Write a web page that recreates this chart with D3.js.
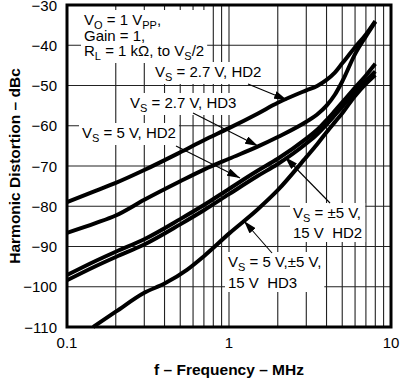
<!DOCTYPE html>
<html>
<head>
<meta charset="utf-8">
<script src="https://cdn.jsdelivr.net/npm/d3@7"></script>
<style>
  body { margin: 0; background: #fff; }
  svg { display: block; font-family: 'Liberation Sans', Arial, Helvetica, sans-serif; }
</style>
</head>
<body>
<div id="chart"></div>
<script>
const freqTicks = [0.1, 1, 10]
const freqTickLabels = ['0.1', '1', '10']
const dbTicks = [-30, -40, -50, -60, -70, -80, -90, -100, -110]

const freq = [0.1, 0.15, 0.2, 0.3, 0.5, 0.7, 1, 1.5, 2, 3, 3.5, 4, 4.5, 5, 6, 7, 8]
const vs27Hd2 = [-79, -76.2, -74.2, -71, -66.6, -63.6, -60.6, -57, -54.3, -51.2, -50.1, -48.6, -46.8, -44.5, -40.5, -37.3, -34]
const vs27Hd3 = [-86.6, -84.2, -82.3, -78.4, -73.8, -70.9, -68.2, -65.2, -62.8, -59, -57.2, -55, -52.3, -49, -42.2, -37.8, -34.2]
const vs5Hd2 = [-97.1, -93.6, -91.3, -88.2, -83.2, -79.7, -75.7, -71.2, -68.2, -63.2, -61, -58.6, -56.3, -54.2, -50.5, -47.5, -44.6]
const vs15Hd2 = [-98.4, -94.9, -92.6, -89.5, -84.5, -81, -77, -72.5, -69.5, -64.4, -62.1, -59.7, -57.4, -55.3, -51.6, -48.8, -46.5]
const hd3Freq = [0.145, 0.2, 0.3, 0.4, 0.55, 0.7, 1, 1.5, 2, 3, 3.5, 4, 4.5, 5, 6, 7, 8]
const vsAllHd3 = [-110, -106.2, -101.5, -99.2, -95.8, -92.4, -86.8, -80.8, -76, -67.8, -64.6, -61.6, -59.1, -56.9, -52.6, -49.6, -47.4]

const series = [
  {f: freq, db: vs27Hd2},
  {f: freq, db: vs27Hd3},
  {f: freq, db: vs5Hd2},
  {f: freq, db: vs15Hd2},
  {f: hd3Freq, db: vsAllHd3}
]

const width = 400
const height = 384
const plot = {left: 67, right: 391, top: 5, bottom: 327}

const x = d3.scaleLog().domain([0.1, 10]).range([plot.left, plot.right])
const y = d3.scaleLinear().domain([-110, -30]).range([plot.bottom, plot.top])

const svg = d3.select('#chart')
  .append('svg')
  .attr('width', width)
  .attr('height', height)

svg.append('defs')
  .append('marker')
  .attr('id', 'head')
  .attr('viewBox', '0 0 13 8')
  .attr('refX', 13)
  .attr('refY', 4)
  .attr('markerWidth', 13)
  .attr('markerHeight', 8)
  .attr('markerUnits', 'userSpaceOnUse')
  .attr('orient', 'auto')
  .append('path')
  .attr('d', 'M0,0L13,4L0,8Z')
  .attr('fill', '#000')

// grid
svg.append('g')
  .selectAll('line')
  .data(x.ticks())
  .enter()
  .append('line')
  .attr('x1', (d) => x(d))
  .attr('x2', (d) => x(d))
  .attr('y1', plot.top)
  .attr('y2', plot.bottom)
  .attr('stroke', '#222')
  .attr('stroke-width', 1.1)

svg.append('g')
  .selectAll('line')
  .data(dbTicks)
  .enter()
  .append('line')
  .attr('x1', plot.left)
  .attr('x2', plot.right)
  .attr('y1', (d) => y(d))
  .attr('y2', (d) => y(d))
  .attr('stroke', '#222')
  .attr('stroke-width', 1.1)

// tick labels
svg.append('g')
  .selectAll('text')
  .data(dbTicks)
  .enter()
  .append('text')
  .attr('x', plot.left - 10)
  .attr('y', (d) => y(d))
  .attr('dy', '0.38em')
  .attr('text-anchor', 'end')
  .attr('font-size', 15)
  .text((d) => '\u2212' + Math.abs(d))

svg.append('g')
  .selectAll('text')
  .data(freqTicks)
  .enter()
  .append('text')
  .attr('x', (d) => x(d))
  .attr('y', 348)
  .attr('text-anchor', 'middle')
  .attr('font-size', 15)
  .text((d, i) => freqTickLabels[i])

svg.append('text')
  .attr('x', (plot.left + plot.right) / 2)
  .attr('y', 375)
  .attr('text-anchor', 'middle')
  .attr('font-size', 15.5)
  .attr('font-weight', 'bold')
  .text('f \u2013 Frequency \u2013 MHz')

svg.append('text')
  .attr('transform', 'translate(20,166) rotate(-90)')
  .attr('text-anchor', 'middle')
  .attr('font-size', 15.5)
  .attr('font-weight', 'bold')
  .text('Harmonic Distortion \u2013 dBc')

// labels: each line is a list of [text, isSub]
const labels = [
  {x: 84, y: 25, lh: 15.5, lines: [
    [['V', 0], ['O', 1], [' = 1 V', 0], ['PP', 1], [',', 0]],
    [['Gain = 1,', 0]],
    [['R', 0], ['L', 1], [' = 1 k\u03a9, to V', 0], ['S', 1], ['/2', 0]]
  ]},
  {x: 155, y: 77, lh: 0, lines: [[['V', 0], ['S', 1], [' = 2.7 V, HD2', 0]]]},
  {x: 130, y: 108, lh: 0, lines: [[['V', 0], ['S', 1], [' = 2.7 V, HD3', 0]]]},
  {x: 82, y: 138, lh: 0, lines: [[['V', 0], ['S', 1], [' = 5 V, HD2', 0]]]},
  {x: 293, y: 218, lh: 20, lines: [[['V', 0], ['S', 1], [' = \u00b15 V,', 0]], [['15 V\u00a0\u00a0HD2', 0]]]},
  {x: 228, y: 267, lh: 21, lines: [[['V', 0], ['S', 1], [' = 5 V,\u00b15 V,', 0]], [['15 V\u00a0\u00a0HD3', 0]]]}
]

const bg = svg.append('g')
const labelG = svg.append('g')
  .attr('font-size', 15)

labels.forEach((lab) => {
  const t = labelG.append('text')
    .attr('x', lab.x)
    .attr('y', lab.y)
  lab.lines.forEach((line, li) => {
    line.forEach((part, pi) => {
      const prevSub = pi > 0 && line[pi - 1][1]
      const ts = t.append('tspan').text(part[0])
      if (pi === 0) ts.attr('x', lab.x).attr('dy', li === 0 ? 0 : lab.lh)
      if (part[1]) ts.attr('font-size', 11).attr('dy', 4)
      else if (prevSub) ts.attr('dy', -4)
    })
  })
  const b = t.node().getBBox()
  bg.append('rect')
    .attr('x', b.x - 3)
    .attr('y', b.y - 1)
    .attr('width', b.width + 6)
    .attr('height', b.height + 2)
    .attr('fill', '#fff')
})

// curves
const line = d3.line()
  .x((d) => x(d[0]))
  .y((d) => y(d[1]))
  .curve(d3.curveMonotoneX)

svg.append('g')
  .selectAll('path')
  .data(series)
  .enter()
  .append('path')
  .attr('d', (s) => line(s.f.map((f, i) => [f, s.db[i]])))
  .attr('fill', 'none')
  .attr('stroke', '#000')
  .attr('stroke-width', 4)
  .attr('stroke-linejoin', 'round')

// arrows
const arrows = [
  [248, 84, 287, 100],
  [193, 113, 258, 146],
  [176, 146, 240, 178],
  [330, 203, 285, 157],
  [272, 253, 244, 221]
]

svg.append('g')
  .selectAll('line')
  .data(arrows)
  .enter()
  .append('line')
  .attr('x1', (d) => d[0])
  .attr('y1', (d) => d[1])
  .attr('x2', (d) => d[2])
  .attr('y2', (d) => d[3])
  .attr('stroke', '#000')
  .attr('stroke-width', 1.1)
  .attr('marker-end', 'url(#head)')

svg.append('rect')
  .attr('x', plot.left)
  .attr('y', plot.top)
  .attr('width', plot.right - plot.left)
  .attr('height', plot.bottom - plot.top)
  .attr('fill', 'none')
  .attr('stroke', '#000')
  .attr('stroke-width', 3)
</script>
</body>
</html>
